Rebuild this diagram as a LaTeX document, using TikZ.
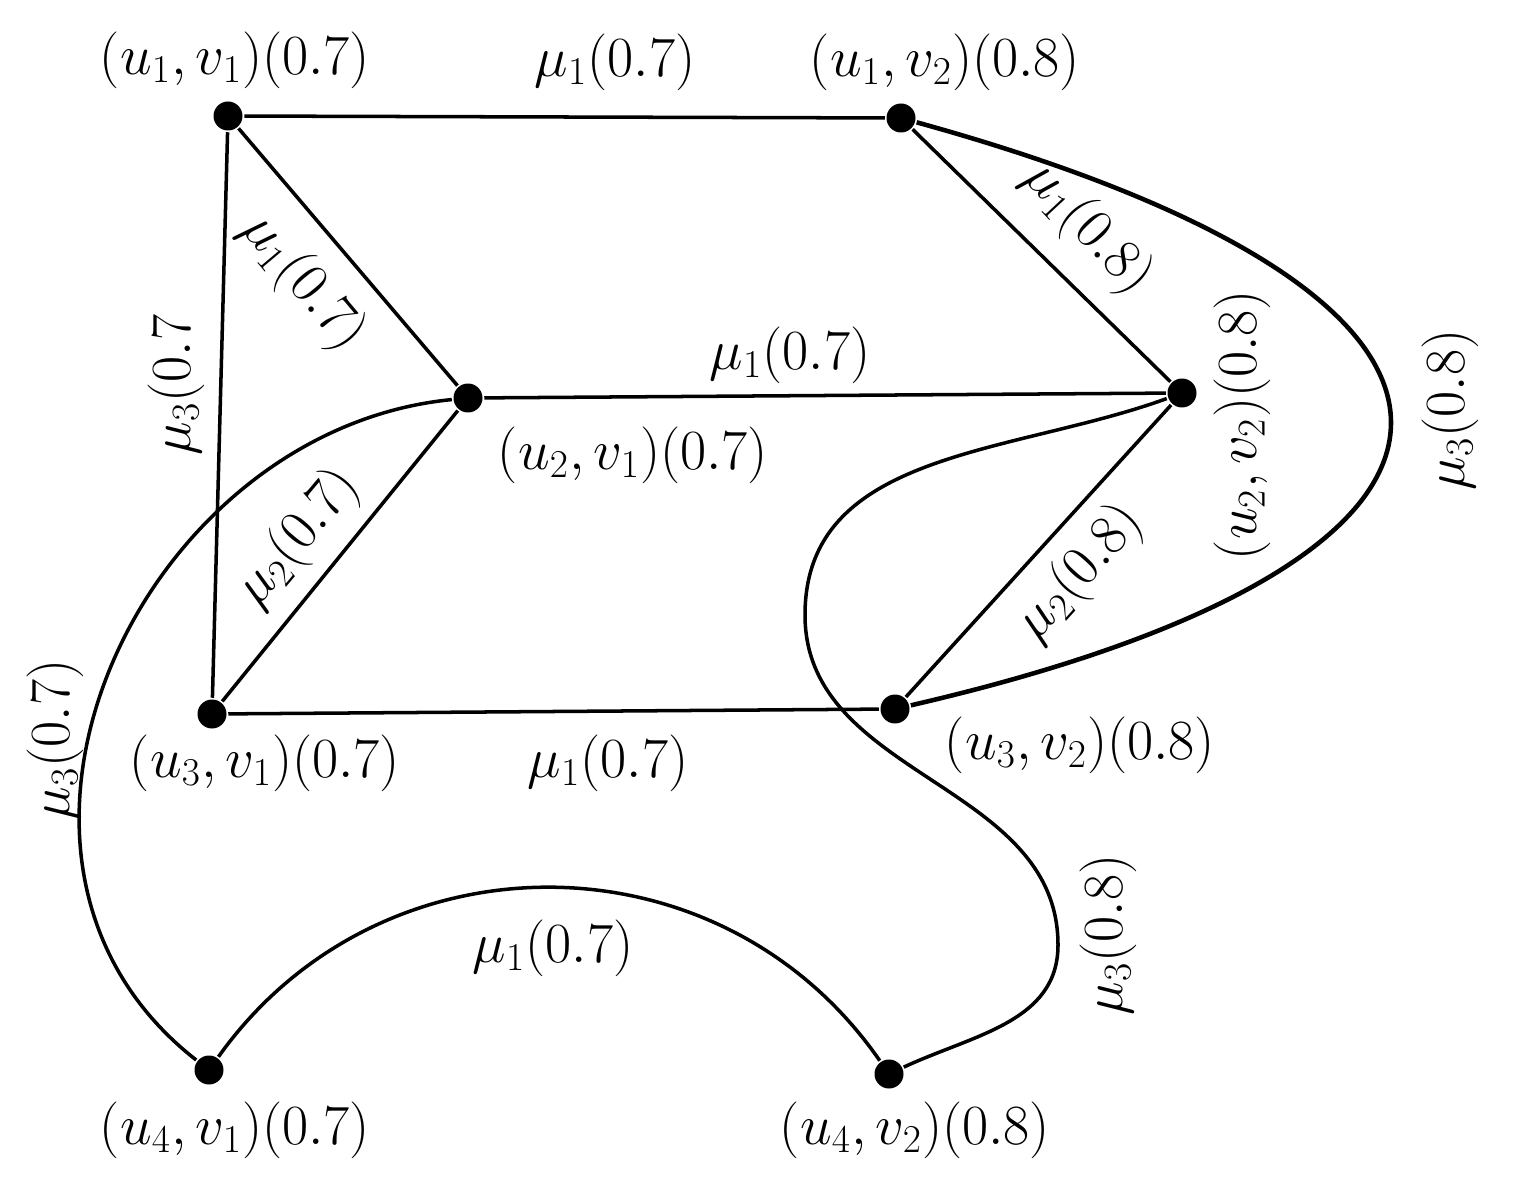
\documentclass[tikz,border=0pt]{standalone}
\begin{document}
\begin{tikzpicture}[x=0.02cm,y=-0.02cm,line width=2pt,
  dot/.style={circle,fill=black,inner sep=0pt,minimum size=0.58cm},
  lab/.style={font=\fontsize{24}{28}\selectfont,inner sep=0pt,scale=1.3}]
\useasboundingbox (0,0) rectangle (1514,1185);
\node[dot] (a) at (228,116) {};
\node[dot] (b) at (901,118) {};
\node[dot] (c) at (468,398) {};
\node[dot] (d) at (1182,393) {};
\node[dot] (e) at (212,714) {};
\node[dot] (f) at (895,709) {};
\node[dot] (g) at (209,1070) {};
\node[dot] (h) at (889,1074) {};
\node[lab] (la) at (235,60) {$(u_1,v_1)(0.7)$};
\node[lab] (lb) at (945,62) {$(u_1,v_2)(0.8)$};
\node[lab] (lc) at (633,455) {$(u_2,v_1)(0.7)$};
\node[lab,rotate=90] (ld) at (1242,425) {$(u_2,v_2)(0.8)$};
\node[lab] (le) at (265,763) {$(u_3,v_1)(0.7)$};
\node[lab] (lf) at (1080,745) {$(u_3,v_2)(0.8)$};
\node[lab] (lg) at (235,1130) {$(u_4,v_1)(0.7)$};
\node[lab] (lh) at (915,1130) {$(u_4,v_2)(0.8)$};
\draw (a) -- (b);
\node[lab] (m1) at (615,62) {$\mu_1(0.7)$};
\draw (a) -- (c);
\node[lab,rotate=-50] (m2) at (303,282) {$\mu_1(0.7)$};
\draw (a) -- (e);
\node[lab,rotate=90] (m3) at (176,385) {$\mu_3(0.7$};
\draw (b) -- (d);
\node[lab,rotate=-47] (m4) at (1088,228) {$\mu_1(0.8)$};
\draw[line width=2.6pt] (b) .. controls (1560,300) and (1540,560) .. (f);
\node[lab,rotate=90] (m5) at (1450,410) {$\mu_3(0.8)$};
\draw (c) -- (d);
\node[lab] (m6) at (790,355) {$\mu_1(0.7)$};
\draw (c) -- (e);
\node[lab,rotate=50] (m7) at (298,538) {$\mu_2(0.7)$};
\draw (d) -- (f);
\node[lab,rotate=48] (m8) at (1080,573) {$\mu_2(0.8)$};
\draw (e) -- (f);
\node[lab] (m9) at (608,763) {$\mu_1(0.7)$};
\draw (c) .. controls (140,430) and (-60,860) .. (g);
\node[lab,rotate=90] (m10) at (55,740) {$\mu_3(0.7)$};
\draw (d) to[out=200,in=90] (805,615) to[out=-90,in=90] (1058,945) to[out=-90,in=25] (h);
\node[lab,rotate=90] (m11) at (1108,935) {$\mu_3(0.8)$};
\draw (g) .. controls (380,830) and (720,830) .. (h);
\node[lab] (m12) at (553,948) {$\mu_1(0.7)$};
\end{tikzpicture}
\end{document}
